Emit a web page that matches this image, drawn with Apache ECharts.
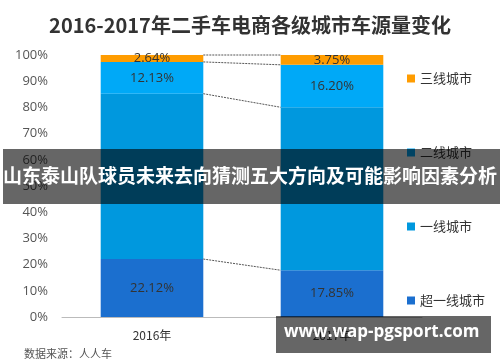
<!DOCTYPE html>
<html>
<head>
<meta charset="utf-8">
<script src="https://cdn.jsdelivr.net/npm/echarts@6/dist/echarts.min.js"></script>
<style>html,body{margin:0;padding:0;background:#fff;}#c{width:500px;height:362px;}</style>
</head>
<body>
<div id="c"></div>
<script>
var categories = ['2016年', '2017年'];
var superTier1 = [22.12, 17.85];
var tier1 = [63.11, 62.20];
var tier2 = [12.13, 16.20];
var tier3 = [2.64, 3.75];
var seriesNames = ['超一线城市', '一线城市', '二线城市', '三线城市'];
var yTicks = [0, 10, 20, 30, 40, 50, 60, 70, 80, 90, 100];

var colors = ['#1B6FCF', '#0098DE', '#00A9F7', '#FF9C00'];
var stacks = [superTier1, tier1, tier2, tier3];

// cumulative boundaries for connector lines
var bounds = [];
var c16 = 0, c17 = 0;
for (var i = 0; i < stacks.length; i++) {
  c16 += stacks[i][0]; c17 += stacks[i][1];
  bounds.push([0, Math.min(c16, 100), Math.min(c17, 100)]);
}

var chart = echarts.init(document.getElementById('c'));
var barSeries = stacks.map(function (arr, i) {
  return {
    name: seriesNames[i],
    type: 'bar',
    stack: 'all',
    barWidth: '57%',
    data: arr,
    itemStyle: { color: colors[i] },
    label: {
      show: i !== 1,
      position: 'inside',
      color: '#333',
      fontSize: 13,
      fontFamily: 'Open Sans, Noto Sans, sans-serif',
      formatter: function (p) { return p.value.toFixed(2) + '%'; }
    },
    z: 2
  };
});
barSeries.push({
  type: 'custom',
  name: 'conn',
  data: bounds,
  encode: { x: 0, y: 1 },
  z: 3,
  silent: true,
  renderItem: function (params, api) {
    var p0 = api.coord([0, api.value(1)]);
    var p1 = api.coord([1, api.value(2)]);
    var half = api.size([1, 0])[0] * 0.57 / 2;
    return {
      type: 'line',
      shape: { x1: p0[0] + half, y1: p0[1], x2: p1[0] - half, y2: p1[1] },
      style: { stroke: '#555', lineWidth: 1, lineDash: [2, 1] }
    };
  }
});

chart.setOption({
  animation: false,
  title: {
    text: '2016-2017年二手车电商各级城市车源量变化',
    left: 'center',
    top: 10,
    textStyle: { fontSize: 20, fontWeight: 'bold', color: '#333', fontFamily: 'Noto Sans CJK SC, sans-serif' }
  },
  legend: {
    orient: 'vertical',
    left: 402,
    top: 67,
    itemWidth: 8,
    itemHeight: 8,
    itemGap: 61,
    icon: 'rect',
    data: ['三线城市', '二线城市', '一线城市', '超一线城市'],
    textStyle: { fontSize: 13, color: '#333', fontFamily: 'Noto Sans CJK SC, sans-serif' }
  },
  grid: { left: 62, right: 78, top: 55, bottom: 45, containLabel: false },
  xAxis: {
    type: 'category',
    data: categories,
    axisLine: { lineStyle: { color: '#bbb' } },
    axisTick: { show: false },
    axisLabel: { color: '#333', fontSize: 12, margin: 12, fontFamily: 'Noto Sans CJK SC, sans-serif' }
  },
  yAxis: {
    type: 'value',
    min: yTicks[0],
    max: yTicks[yTicks.length - 1],
    interval: 10,
    axisLine: { show: false },
    axisTick: { show: false },
    splitLine: { show: false },
    axisLabel: { formatter: '{value}%', color: '#555', fontSize: 13, margin: 14, fontFamily: 'Open Sans, sans-serif' }
  },
  graphic: [
    { type: 'text', left: 24, top: 348, style: { text: '数据来源：人人车', fill: '#555', font: '11px "Noto Sans CJK SC"' } },
    { type: 'rect', left: 3, top: 149, shape: { width: 497, height: 55 }, style: { fill: 'rgba(0,0,0,0.6)' }, z: 100 },
    { type: 'text', left: 'center', top: 166, style: { text: '山东泰山队球员未来去向猜测五大方向及可能影响因素分析', fill: '#fff', font: 'bold 19px "Noto Sans CJK SC"' }, z: 101 },
    { type: 'rect', left: 276, top: 316, shape: { width: 215, height: 37 }, style: { fill: 'rgba(0,0,0,0.6)' }, z: 100 },
    { type: 'text', left: 284, top: 324, style: { text: 'www.wap-pgsport.com', fill: '#fff', font: 'bold 17px "Open Sans"' }, z: 101 }
  ],
  series: barSeries
});
</script>
</body>
</html>
